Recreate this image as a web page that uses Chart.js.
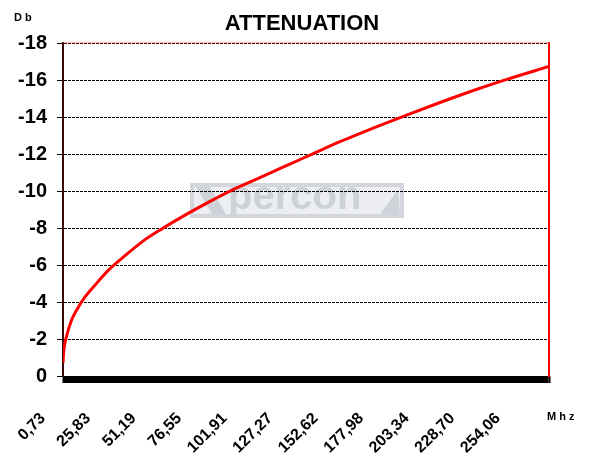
<!DOCTYPE html>
<html>
<head>
<meta charset="utf-8">
<script src="https://cdn.jsdelivr.net/npm/chart.js@4/dist/chart.umd.min.js"></script>
<style>
  html, body { margin: 0; padding: 0; background: #fff; }
</style>
</head>
<body>
<canvas id="grafico" width="589" height="457"></canvas>
<script>
// Frecuencia (MHz) y atenuación (dB)
const frecuencias = [0.73, 1.2, 2.6, 5.4, 9.1, 12.8, 18.4, 25.8, 33.3, 45.3, 55.6, 70.4, 81.6,
  94.6, 107.6, 118.7, 127.1, 138.2, 155.0, 173.5, 192.1, 210.7, 229.3, 247.9, 271.4];
const atenuacion = [-0.7, -1.4, -2.1, -3.0, -3.7, -4.25, -4.9, -5.7, -6.35, -7.3, -7.95, -8.8, -9.4,
  -10.05, -10.62, -11.1, -11.47, -11.95, -12.68, -13.42, -14.12, -14.8, -15.45, -16.05, -16.75];

// Etiquetas del eje X
const etiquetasX = [0.73, 25.83, 51.19, 76.55, 101.91, 127.27, 152.62, 177.98, 203.34, 228.70, 254.06];

const FUENTE = "'Liberation Sans', Arial, sans-serif";
const fMin = 0.73;
const fMax = 271.4;

// marca de agua "percon" detras de la rejilla
const marcaAgua = {
  id: 'marcaAgua',
  beforeDraw(chart) {
    const ctx = chart.ctx;
    ctx.save();
    ctx.fillStyle = '#eceef1';
    ctx.fillRect(190, 183, 214, 35);
    ctx.strokeStyle = '#d3d6dc';
    ctx.lineWidth = 4;
    ctx.strokeRect(192, 185, 210, 31);
    ctx.fillStyle = '#cfd2d8';
    ctx.beginPath();
    ctx.moveTo(196, 187); ctx.lineTo(210, 187); ctx.lineTo(226, 214); ctx.lineTo(212, 214);
    ctx.closePath(); ctx.fill();
    ctx.beginPath();
    ctx.moveTo(380, 214); ctx.lineTo(398, 190); ctx.lineTo(400, 214);
    ctx.closePath(); ctx.fill();
    ctx.font = 'bold 40px ' + FUENTE;
    ctx.fillStyle = '#cdd1d8';
    ctx.fillText('percon', 228, 209);
    ctx.restore();
  }
};

// linea superior roja del area y textos de unidades
const bordeYUnidades = {
  id: 'bordeYUnidades',
  beforeDatasetsDraw(chart) {
    const { ctx, chartArea: a } = chart;
    ctx.save();
    ctx.lineWidth = 1;
    ctx.strokeStyle = 'rgba(255,60,60,0.6)';
    ctx.beginPath();
    ctx.moveTo(a.left, a.top - 0.5);
    ctx.lineTo(a.right, a.top - 0.5);
    ctx.stroke();
    ctx.restore();
  },
  afterDraw(chart) {
    const ctx = chart.ctx;
    ctx.save();
    ctx.fillStyle = '#000';
    ctx.font = 'bold 11px ' + FUENTE;
    ctx.letterSpacing = '3px';
    ctx.textBaseline = 'top';
    ctx.fillText('Db', 14, 12);
    ctx.fillText('Mhz', 547, 411);
    ctx.restore();
  }
};

new Chart(document.getElementById('grafico'), {
  type: 'line',
  data: {
    datasets: [{
      label: 'Atenuación',
      data: frecuencias.map((f, i) => ({ x: f, y: atenuacion[i] })),
      borderColor: '#ff0000',
      borderWidth: 3,
      pointRadius: 0,
      cubicInterpolationMode: 'monotone',
      fill: false
    }]
  },
  options: {
    responsive: false,
    animation: false,
    devicePixelRatio: 1,
    layout: { padding: { left: 15, right: 0, top: 0, bottom: 0 } },
    plugins: {
      legend: { display: false },
      tooltip: { enabled: false },
      title: {
        display: true,
        text: 'ATTENUATION',
        color: '#000',
        font: { family: FUENTE, size: 22, weight: 'bold' },
        padding: { top: 11, bottom: 6 }
      }
    },
    scales: {
      x: {
        type: 'linear',
        position: 'bottom',
        weight: 1,
        min: fMin,
        max: fMax,
        afterBuildTicks: s => { s.ticks = etiquetasX.map(v => ({ value: v })); },
        afterFit: s => { s.height = 74; },
        grid: { display: false, drawTicks: false },
        border: { display: false },
        ticks: {
          autoSkip: false,
          minRotation: 45,
          maxRotation: 45,
          labelOffset: -20,
          padding: 26,
          color: '#000',
          font: { family: FUENTE, size: 16, weight: 'bold' },
          callback: v => v.toFixed(2).replace('.', ',')
        }
      },
      x2: {
        type: 'linear',
        position: 'bottom',
        weight: 0,
        min: fMin,
        max: fMax,
        afterFit: s => { s.height = 7; },
        grid: { drawOnChartArea: false, drawTicks: true, tickLength: 7, tickColor: '#000', tickWidth: 2 },
        border: { display: false },
        ticks: { display: false, stepSize: 0.5, autoSkip: false, maxTicksLimit: 1000 }
      },
      y: {
        min: -18,
        max: 0,
        reverse: true,
        afterFit: s => { s.width = 48; },
        grid: { color: '#000', lineWidth: 1, tickLength: 6, tickColor: '#000' },
        border: { color: '#3a0a0a', width: 2, dash: [3, 1] },
        ticks: {
          stepSize: 2,
          padding: 10,
          color: '#000',
          font: { family: FUENTE, size: 20, weight: 'bold' }
        }
      },
      yDer: {
        position: 'right',
        min: -18,
        max: 0,
        reverse: true,
        afterFit: s => { s.width = 40; },
        grid: { display: false, drawTicks: false },
        border: { display: true, color: '#ff0000', width: 2 },
        ticks: { display: false }
      }
    }
  },
  plugins: [marcaAgua, bordeYUnidades]
});
</script>
</body>
</html>
